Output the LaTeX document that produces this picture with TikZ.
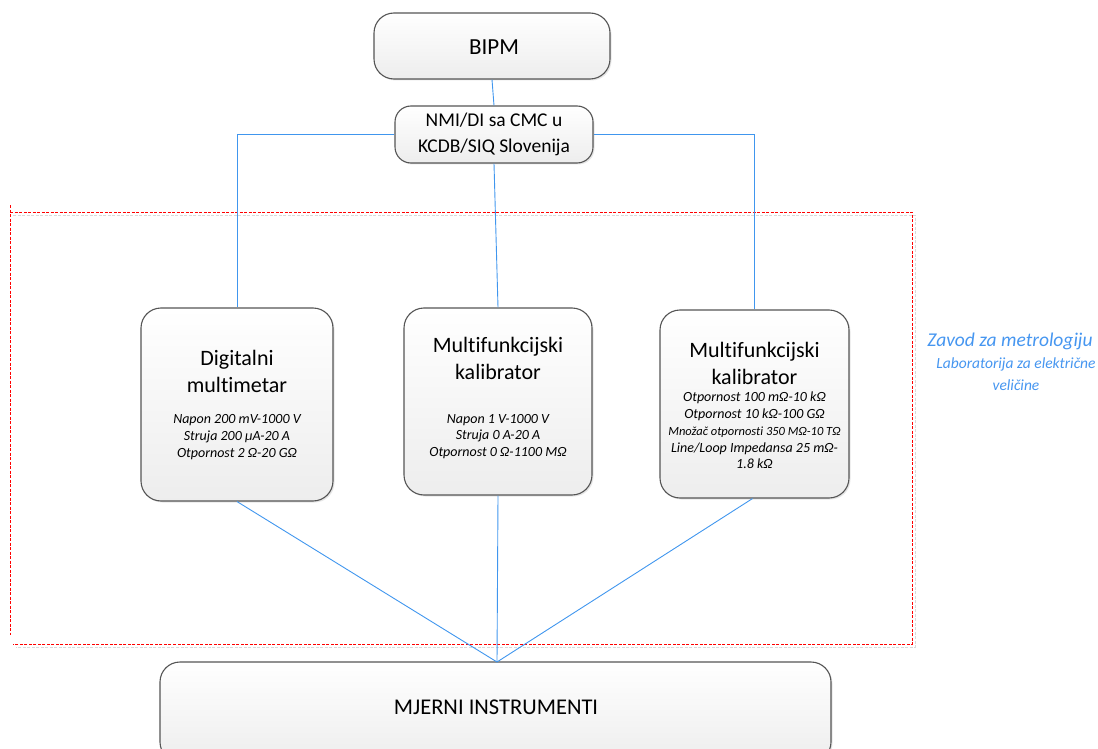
\documentclass[tikz,border=0pt]{standalone}
\usepackage{fontspec}
\setmainfont{Carlito}[RawFeature={-liga}]
\usetikzlibrary{shadows}
\definecolor{lnblue}{RGB}{64,150,238}
\definecolor{boxline}{RGB}{85,85,85}
\definecolor{labblue}{RGB}{70,150,240}
\tikzset{
  box/.style={draw=boxline, line width=1.1pt, rounded corners=20pt, top color=white, bottom color=black!7,
    drop shadow={shadow xshift=1.5pt, shadow yshift=-1.5pt, opacity=0.2}, inner sep=0pt},
  conn/.style={draw=lnblue, line width=0.9pt},
  big/.style={font=\fontsize{22}{27}\selectfont, inner sep=0pt, align=center},
  small/.style={font=\fontsize{14}{16.7}\selectfont\itshape, inner sep=0pt, align=center},
  lab/.style={text=labblue, inner sep=0pt, align=center},
  region/.style={draw=red, line width=0.8pt, dash pattern=on 3pt off 1.5pt}
}
\begin{document}
\begin{tikzpicture}[x=1pt,y=-1pt]
\useasboundingbox (0,0) rectangle (1098,749);
% region
\draw[draw=black!15, line width=0.8pt, dash pattern=on 3pt off 1.5pt] (13,215) -- (915,215) -- (915,647) -- (16,647);
\draw[region] (10,205) -- (10,635);
\draw[region] (10,212) -- (912,212) -- (912,644) -- (13,644);
% boxes
\node[box, minimum width=236pt, minimum height=66pt] (bipm) at (492,46) {};
\node[box, minimum width=198pt, minimum height=57pt, rounded corners=16pt] (nmi) at (494,134.5) {};
\node[box, minimum width=192pt, minimum height=193pt] (dmm) at (237,404.5) {};
\node[box, minimum width=188pt, minimum height=187pt] (mk1) at (498,401.5) {};
\node[box, minimum width=189pt, minimum height=188pt] (mk2) at (754.5,404) {};
\node[box, minimum width=671pt, minimum height=100pt] (mi) at (495.5,712) {};
% texts
\node[font=\fontsize{23}{27}\selectfont, inner sep=0pt] (tbipm) at (494,47) {BIPM};
\node[font=\fontsize{19.5}{26}\selectfont, inner sep=0pt, align=center] (tnmi) at (494,134.5) {NMI/DI sa CMC u\\KCDB/SIQ Slovenija};
\node[big] (tdmm) at (237,371.5) {Digitalni\\multimetar};
\node[small] (sdmm) at (237,437) {Napon 200 mV-1000 V\\Struja 200 µA-20 A\\Otpornost 2 Ω-20 GΩ};
\node[big] (tmk1) at (498,358.5) {Multifunkcijski\\kalibrator};
\node[small] (smk1) at (498,436.5) {Napon 1 V-1000 V\\Struja 0 A-20 A\\Otpornost 0 Ω-1100 MΩ};
\node[big] (tmk2) at (754.5,363.5) {Multifunkcijski\\kalibrator};
\node[small] (smk2) at (754.5,430.5) {Otpornost 100 mΩ-10 kΩ\\Otpornost 10 kΩ-100 GΩ\\{\fontsize{12.5}{16.7}\selectfont Množač otpornosti 350 MΩ-10 TΩ}\\Line/Loop Impedansa 25 mΩ-\\1.8 kΩ};
\node[font=\fontsize{22.5}{27}\selectfont, inner sep=0pt] (tmi) at (496,707) {MJERNI INSTRUMENTI};
\node[lab, font=\fontsize{19.5}{23}\selectfont\itshape] (zavod) at (1010,341) {Zavod za metrologiju};
\node[lab, font=\fontsize{15.5}{22}\selectfont\itshape] (labor) at (1016,374) {Laboratorija za električne\\veličine};
% connectors
\coordinate (c) at (497,662);
\draw[conn] (bipm.south) -- (nmi.north);
\draw[conn] (nmi.west) -| (dmm.north);
\draw[conn] (nmi.east) -| (mk2.north);
\draw[conn] (nmi.south) -- (mk1.north);
\draw[conn] (dmm.south) -- (c);
\draw[conn] (mk1.south) -- (c);
\draw[conn] ([xshift=-2pt]mk2.south) -- (c);
\end{tikzpicture}
\end{document}
